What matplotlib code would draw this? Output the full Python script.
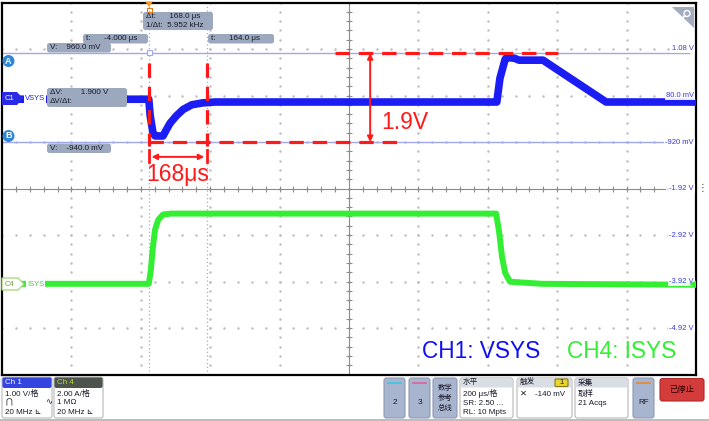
import numpy as np
import matplotlib.pyplot as plt
from matplotlib.patches import FancyBboxPatch, Polygon, Circle

DPI = 100
FIGSIZE = (7.09, 4.21)
FONT = ['Liberation Sans', 'Noto Sans CJK SC', 'DejaVu Sans']

# scope screen: 10 div x 200 us, 8 div x 1 V (CH1 scale)
T_LEFT, T_SPAN = -427.0, 2000.0
V_TOP, V_SPAN = 2.08, 8.0
T_DIV, V_DIV = 200.0, 1.0

BLUE = '#1c1cf4'
GREEN = '#33ee33'
RED = '#ff1a1a'
CURSOR = '#a2a8f0'
LABEL_BLUE = '#3a3ad0'
BOX_GREY = '#9ba8be'

# CH1 VSYS, in screen volts (same units as the right-hand graticule labels)
vsys_t = [-427, -4, 0, 8, 14, 37, 45, 57, 75, 95, 120, 150, 187,
          999, 1008, 1023, 1028, 1050, 1063, 1132, 1314, 1573]
vsys_v = [0.0, 0.0, -0.35, -0.72, -0.79, -0.79, -0.68, -0.52, -0.36, -0.22, -0.12, -0.08, -0.06,
          -0.06, 0.45, 0.86, 0.90, 0.88, 0.84, 0.84, -0.06, -0.06]

# CH4 ISYS, amps (2 A/div), zero at the C4 marker
isys_t = [-427, -4, 2, 8, 14, 23, 37, 60, 997, 1006, 1014, 1023, 1037, 1130, 1573]
isys_a = [0.0, 0.0, 0.6, 1.6, 2.32, 2.75, 2.98, 3.02, 3.02, 2.19, 1.16, 0.47, 0.09, 0.0, -0.04]
ISYS_ZERO = -3.97
ISYS_SCALE = 2.0

grid_values = [1.08, 0.08, -0.92, -1.92, -2.92, -3.92, -4.92]
grid_labels = ["1.08 V", "80.0 mV", "-920 mV", "-1.92 V", "-2.92 V", "-3.92 V", "-4.92 V"]

cursor_t = [-4.0, 164.0]
cursor_v = [0.99, -0.92]

fig = plt.figure(figsize=FIGSIZE, dpi=DPI)
fig.patch.set_facecolor('white')
ax = fig.add_axes([2 / 709, (421 - 374.5) / 421, 694 / 709, 372 / 421])
ax.set_xlim(T_LEFT, T_LEFT + T_SPAN)
ax.set_ylim(V_TOP - V_SPAN, V_TOP)
ax.set_xticks([])
ax.set_yticks([])
for s in ax.spines.values():
    s.set_color('black')
    s.set_linewidth(1.6)

# graticule dots
t_lines = T_LEFT + T_DIV * np.arange(1, 10)
v_lines = V_TOP - V_DIV * np.arange(1, 8)
t_minor = T_LEFT + T_DIV / 5 * np.arange(0, 51)
v_minor = V_TOP - V_DIV / 5 * np.arange(0, 41)
for t in t_lines:
    ax.plot(np.full(v_minor.size, t), v_minor, ls='none', marker='.',
            ms=1.6, color='#c0c0c0', zorder=1)
for v in v_lines:
    ax.plot(t_minor, np.full(t_minor.size, v), ls='none', marker='.',
            ms=1.6, color='#c0c0c0', zorder=1)
t_mid = T_LEFT + T_SPAN / 2
v_mid = V_TOP - V_SPAN / 2
t_end = T_LEFT + T_SPAN * 0.955
ax.plot([T_LEFT, t_end], [v_mid, v_mid], color='#8c8c8c', lw=0.8, zorder=1)
ax.axvline(t_mid, color='#8c8c8c', lw=0.8, zorder=1)
tk = t_minor[t_minor < t_end]
ax.plot(tk, np.full(tk.size, v_mid), ls='none', marker='|', ms=4, mew=0.7,
        color='#8c8c8c', zorder=1)
ax.plot(np.full(v_minor.size, t_mid), v_minor, ls='none', marker='_', ms=4,
        mew=0.7, color='#8c8c8c', zorder=1)

# cursors
for v in cursor_v:
    ax.plot([T_LEFT, T_LEFT + T_SPAN * 0.99], [v, v], color=CURSOR, lw=1.0, zorder=2)
for t in cursor_t:
    ax.axvline(t, color=CURSOR, lw=0.9, ls=(0, (1, 2)), zorder=2)

# traces
ax.plot(vsys_t, vsys_v, color=BLUE, lw=5.5, solid_joinstyle='round', zorder=3)
isys_screen = ISYS_ZERO + np.array(isys_a) / ISYS_SCALE
ax.plot(isys_t, isys_screen, color=GREEN, lw=4.3, solid_joinstyle='round', zorder=3)

# right-hand graticule labels
for v, lab in zip(grid_values, grid_labels):
    ax.text(0.997, v, lab, transform=ax.get_yaxis_transform(), ha='right', va='center',
            fontsize=5.5, color=LABEL_BLUE, family=FONT, zorder=4,
            bbox=dict(fc='white', ec='none', pad=0.6, alpha=0.9))

# red annotations
ta, tb = cursor_t
va, vb = cursor_v
dash = dict(color=RED, lw=2.3, dashes=(4.5, 2.8), zorder=5)
ax.plot([ta, ta], [0.78, -1.0], **dash)
ax.plot([tb, tb], [0.78, -1.0], **dash)
ax.plot([ta, 726], [vb, vb], **dash)
ax.plot([533, 1175], [va, va], **dash)
for t in cursor_t:
    ax.plot([t, t], [-1.09, -1.35], color=RED, lw=2.0, zorder=5)
ax.annotate('', xy=(tb - 8, -1.24), xytext=(ta + 8, -1.24),
            arrowprops=dict(arrowstyle='<|-|>', color=RED, lw=1.4,
                            mutation_scale=8, shrinkA=0, shrinkB=0), zorder=5)
ax.annotate('', xy=(634, va), xytext=(634, vb),
            arrowprops=dict(arrowstyle='<|-|>', color=RED, lw=1.4,
                            mutation_scale=8, shrinkA=0, shrinkB=0), zorder=5)
ax.text(666, -0.49, "1.9V", color=RED, fontsize=16.5, family=FONT,
        ha='left', va='center', zorder=5)
ax.text((ta + tb) / 2, -1.61, "168μs", color=RED, fontsize=16.5, family=FONT,
        ha='center', va='center', zorder=5)

# overlay in pixel coordinates for the scope UI
ui = fig.add_axes([0, 0, 1, 1], zorder=10)
ui.set_xlim(0, 709)
ui.set_ylim(421, 0)
ui.axis('off')
ui.patch.set_alpha(0)


def box(x0, y0, x1, y1, fc, ec='none', r=2.5, lw=0.8):
    ui.add_patch(FancyBboxPatch((x0, y0), x1 - x0, y1 - y0,
                                boxstyle=f"round,pad=0,rounding_size={r}",
                                fc=fc, ec=ec, lw=lw))


def txt(x, y, s, size=5.8, color='#1a1a2a', ha='left', **kw):
    ui.text(x, y, s, fontsize=size, color=color, ha=ha, va='center', family=FONT, **kw)


# cursor readouts
box(143, 12, 213, 30, BOX_GREY)
txt(146, 16.5, "Δt:      168.0 μs")
txt(146, 25.5, "1/Δt:  5.952 kHz")
box(83, 34, 148, 43.5, BOX_GREY)
txt(86, 38.8, "t:      -4.000 μs")
box(208, 34, 274, 43.5, BOX_GREY)
txt(211, 38.8, "t:      164.0 μs")
box(47, 43, 111, 52.5, BOX_GREY)
txt(50, 47.8, "V:    960.0 mV")
box(47, 88, 127, 107, BOX_GREY)
txt(50, 92.8, "ΔV:        1.900 V")
txt(50, 101.8, "ΔV/Δt:")
box(47, 143.5, 111, 153, BOX_GREY)
txt(50, 148.3, "V:    -940.0 mV")
ui.add_patch(Polygon([(145, 1.5), (153, 1.5), (149, 7)], closed=True, fc='#f39a22', ec='none'))
ui.add_patch(Polygon([(146.5, 7.5), (151.5, 7.5), (151.5, 11.5), (146.5, 11.5)],
                     closed=True, fc='none', ec='#e07a10', lw=0.8))
ui.add_patch(Polygon([(146.5, 50), (151.5, 50), (151.5, 55), (146.5, 55)],
                     closed=True, fc='white', ec=CURSOR, lw=0.8))

# cursor letters
for yc, letter in [(61, "A"), (136, "B")]:
    ui.add_patch(Circle((8.5, yc), 6, fc='#2f86d6', ec='none'))
    txt(8.5, yc, letter, size=6.5, color='white', ha='center', weight='bold')

# channel markers
ui.add_patch(Polygon([(2, 92), (17, 92), (23, 98.5), (17, 105), (2, 105)],
                     closed=True, fc='#2a2ae6', ec='none'))
txt(4.5, 98.5, "C1", size=5.5, color='white')
txt(25, 99, "VSYS", size=5.5, color=BLUE, bbox=dict(fc='white', ec='none', pad=0.5))
ui.add_patch(Polygon([(2, 278), (18, 278), (24, 284), (18, 290), (2, 290)],
                     closed=True, fc='white', ec='#a6d870', lw=0.9))
txt(4.5, 284, "C4", size=5.5, color='#6aa83a')
txt(27, 284, "ISYS", size=5.5, color='#3ad83a', bbox=dict(fc='white', ec='none', pad=0.5))
ui.add_patch(Polygon([(689, 103), (696, 99.5), (696, 106.5)], closed=True, fc=BLUE, ec='none'))
ui.add_patch(Polygon([(689, 284), (696, 280.5), (696, 287.5)], closed=True, fc=GREEN, ec='none'))

# zoom icon and side strip
ui.add_patch(Polygon([(672, 7), (694, 7), (694, 28)], closed=True, fc='#a3acbe', ec='none'))
ui.add_patch(Circle((687, 13.5), 3, fc='none', ec='white', lw=1.0))
ui.plot([684.8, 681.5], [15.7, 19], color='white', lw=1.2)
txt(703, 188, "⋮", size=7, color='#404040', ha='center')

# legend text
txt(422, 352, "CH1: VSYS", size=16.3, color='#1010f0')
txt(567, 352, "CH4: ISYS", size=16.3, color='#33ee33')

# bottom panel
ui.plot([0, 709], [419.5, 419.5], color='#b0b0b0', lw=1.2)
box(2, 377, 52, 418, 'white', ec='#b8b8b8')
box(2.4, 377.4, 51.6, 388, '#3344e0', r=2)
txt(5, 382.5, "Ch 1", size=5.8, color='white')
txt(5, 393.5, "1.00 V/格", size=5.8)
txt(5, 403, "⋂", size=6)
txt(45, 403, "∿", size=6)
txt(5, 412.5, "20 MHz ⊾", size=5.8)
box(54, 377, 103, 418, 'white', ec='#b8b8b8')
box(54.4, 377.4, 102.6, 388, '#4d534d', r=2)
txt(57, 382.5, "Ch 4", size=5.8, color='#b4dc34')
txt(57, 393.5, "2.00 A/格", size=5.8)
txt(57, 403, "1 MΩ", size=5.8)
txt(57, 412.5, "20 MHz ⊾", size=5.8)

btn = '#a8b5cf'
box(384, 378, 405, 418, btn, ec='#8e9ab4')
ui.plot([388, 401], [383, 383], color='#35c8e0', lw=1.2)
txt(394.5, 403, "2", size=6, ha='center')
box(409, 378, 430, 418, btn, ec='#8e9ab4')
ui.plot([413, 426], [383, 383], color='#e0609a', lw=1.2)
txt(419.5, 403, "3", size=6, ha='center')
box(433, 378, 457, 418, btn, ec='#8e9ab4')
txt(445, 388, "数学", size=5.3, ha='center')
txt(445, 398, "参考", size=5.3, ha='center')
txt(445, 408, "总线", size=5.3, ha='center')

for x0, x1, head in [(460, 513, "水平"), (517, 572, "触发"), (575, 628, "采集")]:
    box(x0, 378, x1, 418, 'white', ec='#b8b8b8')
    box(x0 + 0.4, 378.4, x1 - 0.4, 387.5, '#d9dde4', r=2)
    txt(x0 + 3, 382.8, head, size=5.5)
txt(463, 394, "200 μs/格", size=5.8)
txt(463, 403.5, "SR: 2.50 ...", size=5.8)
txt(463, 413, "RL: 10 Mpts", size=5.8)
box(555, 379, 568, 386.5, '#e8d630', ec='#8a7a10', r=1)
txt(561.5, 382.8, "1", size=5.3, ha='center')
txt(520, 394, "✕", size=6)
txt(535, 394, "-140 mV", size=5.8)
txt(578, 394, "取样", size=5.8)
txt(578, 403.5, "21 Acqs", size=5.8)
box(633, 378, 654, 418, btn, ec='#8e9ab4')
ui.plot([637, 650], [383, 383], color='#e8882a', lw=1.2)
txt(643.5, 403, "RF", size=5.8, ha='center')
box(660, 378.5, 704, 401, '#d43c3c', ec='#b02a2a')
txt(682, 389.5, "已停止", size=6, color='#2a0000', ha='center')

fig.savefig("out.png", dpi=DPI)
